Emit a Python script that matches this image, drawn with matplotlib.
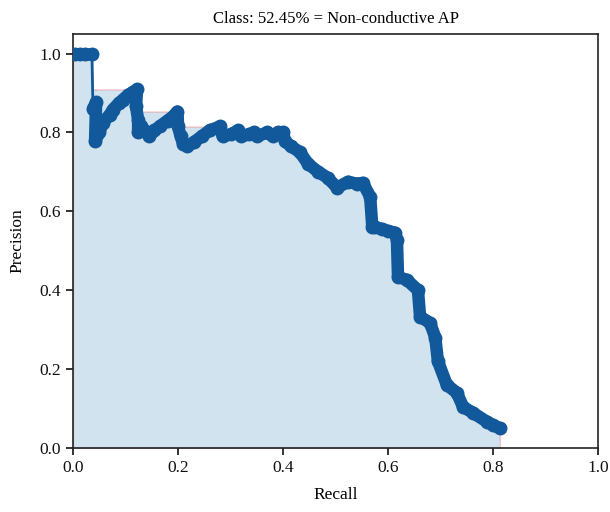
import numpy as np
import matplotlib
matplotlib.use("Agg")
import matplotlib.pyplot as plt

plt.rcParams['font.family'] = ['Liberation Serif', 'DejaVu Serif']

title = "Class: 52.45% = Non-conductive AP"

recall = [0.004, 0.013, 0.023, 0.036, 0.038, 0.044, 0.042,
          0.050, 0.057, 0.070, 0.076, 0.088, 0.095, 0.105, 0.115, 0.122,
          0.120, 0.124, 0.124, 0.130, 0.140, 0.145, 0.155, 0.165, 0.180,
          0.190, 0.199, 0.200, 0.205, 0.210, 0.218, 0.230, 0.245, 0.260,
          0.280, 0.285, 0.300, 0.315, 0.320, 0.335, 0.345, 0.350, 0.370,
          0.380, 0.390, 0.400, 0.404, 0.415, 0.432, 0.448, 0.467, 0.485,
          0.503, 0.524, 0.540, 0.552, 0.566, 0.570, 0.575, 0.589, 0.600,
          0.613, 0.617, 0.619, 0.636, 0.657, 0.661, 0.680, 0.690, 0.695,
          0.712, 0.731, 0.743, 0.762, 0.789, 0.800, 0.813]
precision = [1.0, 1.0, 1.0, 1.0, 0.86, 0.876, 0.777,
             0.800, 0.825, 0.845, 0.858, 0.875, 0.883, 0.895, 0.903, 0.909,
             0.866, 0.832, 0.800, 0.815, 0.800, 0.790, 0.805, 0.815, 0.830,
             0.840, 0.853, 0.815, 0.790, 0.770, 0.765, 0.775, 0.790, 0.805,
             0.815, 0.790, 0.795, 0.805, 0.790, 0.795, 0.800, 0.790, 0.800,
             0.790, 0.800, 0.800, 0.777, 0.765, 0.750, 0.720, 0.700, 0.685,
             0.660, 0.675, 0.670, 0.672, 0.637, 0.561, 0.560, 0.555, 0.550,
             0.546, 0.528, 0.434, 0.426, 0.400, 0.333, 0.317, 0.280, 0.220,
             0.160, 0.140, 0.104, 0.089, 0.066, 0.058, 0.050]

# interpolated precision envelope (VOC style)
mrec = [0.0] + list(recall) + [1.0]
mpre = [0.0] + list(precision) + [0.0]
for i in range(len(mpre) - 2, -1, -1):
    mpre[i] = max(mpre[i], mpre[i + 1])

fig = plt.figure(figsize=(6.10, 5.12), dpi=100)
ax = fig.add_axes([0.1197, 0.125, 0.8607, 0.809])

line_color = '#12599b'
style = dict(color=line_color, marker='o', solid_capstyle='round',
             solid_joinstyle='round', zorder=3)
k = 4  # first point after the precision-1.0 plateau
ax.plot(recall[:k], precision[:k], linewidth=9, markersize=9, **style)
ax.plot(recall[k - 1:k + 1], precision[k - 1:k + 1], color=line_color,
        linewidth=2, zorder=3)
ax.plot(recall[k:], precision[k:], linewidth=9, markersize=9, **style)
ax.fill_between(mrec[:-1], 0, mpre[:-1], alpha=0.2, color='#1f77b4',
                edgecolor='r', linewidth=1, zorder=2)

ax.set_xlim(0.0, 1.0)
ax.set_ylim(0.0, 1.05)
ticks = np.arange(0, 1.01, 0.2)
ax.set_xticks(ticks)
ax.set_yticks(ticks)
ax.set_xticklabels([f"{v:.1f}" for v in ticks])
ax.set_yticklabels([f"{v:.1f}" for v in ticks])
ax.tick_params(labelsize=12.5, length=5, width=1.2, colors='#111111')
for s in ax.spines.values():
    s.set_linewidth(1.2)
    s.set_color('#222222')

ax.set_title(title, fontsize=12, pad=8)
ax.set_xlabel("Recall", fontsize=12.5, labelpad=8)
ax.set_ylabel("Precision", fontsize=12.5, labelpad=10)

fig.savefig("out.png", dpi=100)
